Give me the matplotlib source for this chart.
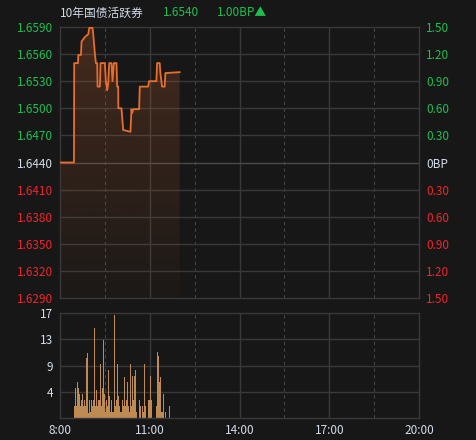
import numpy as np
import matplotlib.pyplot as plt
from matplotlib.colors import to_rgb

plt.rcParams['font.family'] = ['Noto Sans CJK SC', 'DejaVu Sans']

# minutes after 8:00 and yield
t = [0, 28, 28.5, 36, 36.7, 42, 43.3, 50, 56.7, 58.7, 65.3, 66.7, 70, 72, 74.7, 75.3,
     80, 81.3, 90, 92, 94.7, 96.7, 98.7, 103.3, 105.3, 108, 113.3, 114.7, 116.7, 117,
     123.3, 126.7, 141.3, 143.3, 145, 146.7, 158.7, 160, 176.7, 178.7, 193.3, 194.7,
     200, 201.3, 204.7, 210, 211.3, 240]
yld = [1.6440, 1.6440, 1.6550, 1.6550, 1.6559, 1.6559, 1.6574, 1.6579, 1.6582, 1.6589,
       1.6589, 1.6582, 1.6560, 1.6550, 1.6550, 1.6524, 1.6524, 1.6550, 1.6550, 1.6530,
       1.6520, 1.6528, 1.6550, 1.6550, 1.6530, 1.6550, 1.6550, 1.6524, 1.6524, 1.6500,
       1.6500, 1.6476, 1.6474, 1.6499, 1.6495, 1.6499, 1.6499, 1.6524, 1.6524, 1.6530,
       1.6530, 1.6550, 1.6550, 1.6539, 1.6524, 1.6524, 1.6539, 1.6540]

# volume, 2-minute bins starting at 8:28
vol_start = 28
vol_bin = 2
vol = [2, 4.8, 2, 5.8, 4.8, 3.9, 2, 2.9, 3.9, 2, 2.9, 2, 9.7, 10.6, 0.8, 2.9, 1, 2.9, 2, 2.9,
       14.5, 2, 4.5, 2, 2.9, 2.9, 8.8, 2, 4.8, 12.6, 3.9, 1, 2.9, 2, 7.8, 3.5, 1, 2.9, 1, 1,
       16.7, 2, 2.9, 8.8, 3.5, 2, 1, 1, 2.9, 2, 6.7, 2, 2.9, 5.9, 2, 1, 8.7, 2, 6.8, 2.9,
       6.8, 7.8, 1, 0, 0, 2.9, 2, 0, 2, 1, 8.7, 2, 0, 0, 2.9, 2.9, 6.8, 2.9, 0, 0,
       0, 0, 2, 10.7, 10, 5.9, 6.7, 1, 1, 3.9, 0, 1, 0, 0, 0, 2]

base = 1.6440
yticks = [1.6590, 1.6560, 1.6530, 1.6500, 1.6470, 1.6440, 1.6410, 1.6380, 1.6350, 1.6320, 1.6290]
bp_labels = ['1.50', '1.20', '0.90', '0.60', '0.30', '0BP', '0.30', '0.60', '0.90', '1.20', '1.50']
xticks = [0, 180, 360, 540, 720]
xlabels = ['8:00', '11:00', '14:00', '17:00', '20:00']
vol_max = 17

bg = '#171717'
grid_c = '#393939'
green = '#1fbf4f'
red = '#f0242c'
light = '#d4dcea'
orange = '#e86e2c'

fig = plt.figure(figsize=(4.76, 4.4), dpi=100, facecolor=bg)
W, H = 476, 440
ax = fig.add_axes([60 / W, (H - 298) / H, 359 / W, 271 / H], facecolor=bg)
axv = fig.add_axes([60 / W, (H - 418) / H, 359 / W, 105 / H], facecolor=bg)


def frame(a):
    for s in a.spines.values():
        s.set_color(grid_c)
        s.set_linewidth(1)
    a.set_xlim(0, 720)
    a.set_xticks(xticks)
    for x in [180, 360, 540]:
        a.axvline(x, color=grid_c, lw=1, zorder=0)
    for x in [90, 270, 450, 630]:
        a.axvline(x, color='#444444', lw=0.8, ls=(0, (3, 3)), zorder=0)
    a.tick_params(length=0, labelsize=8.5)


frame(ax)
ax.set_ylim(1.6290, 1.6590)
ax.set_yticks(yticks)
ax.set_yticklabels([f'{v:.4f}' for v in yticks])
ax.set_xticklabels([])
for v in yticks[1:-1]:
    ax.axhline(v, color='#4a4a4a' if abs(v - base) < 1e-6 else grid_c, lw=1, zorder=0)
for lab, v in zip(ax.get_yticklabels(), yticks):
    lab.set_color(light if abs(v - base) < 1e-6 else (green if v > base else red))
ax.tick_params(axis='y', pad=5)

axr = ax.twinx()
axr.set_ylim(1.6290, 1.6590)
axr.set_yticks(yticks)
axr.set_yticklabels(bp_labels)
axr.tick_params(length=0, labelsize=8.5, pad=5)
for s in axr.spines.values():
    s.set_visible(False)
for lab, v in zip(axr.get_yticklabels(), yticks):
    lab.set_color(light if abs(v - base) < 1e-6 else (green if v > base else red))

# gradient fill under the line
poly = ax.fill_between(t, yld, 1.6290, color='none', lw=0)
rgb = to_rgb('#c8622e')
alpha = np.linspace(0.26, 0.03, 256)
grad = np.zeros((256, 1, 4))
grad[:, 0, :3] = rgb
grad[:, 0, 3] = alpha
im = ax.imshow(grad, extent=[0, 240, 1.6290, 1.6590], aspect='auto', origin='upper', zorder=1)
im.set_clip_path(poly.get_paths()[0], transform=ax.transData)
ax.plot(t, yld, color=orange, lw=1.3, zorder=3)

# volume
frame(axv)
axv.set_ylim(0, vol_max)
vt = [vol_max * k / 4 for k in range(1, 5)]
axv.set_yticks(vt)
axv.set_yticklabels([str(int(v + 0.5)) for v in vt], color=light)
for v in vt[:-1]:
    axv.axhline(v, color=grid_c, lw=1, zorder=0)
axv.set_xticklabels(xlabels, color=light)
axv.tick_params(axis='x', pad=4.5, labelsize=8.5)
axv.tick_params(axis='y', pad=5)
vx = vol_start + vol_bin * np.arange(len(vol))
axv.bar(vx, vol, width=vol_bin, align='edge', color='#be8c52', lw=0, zorder=2)

fig.text(60 / W, 1 - 13 / H, '10年国债活跃券', color=light, fontsize=8.5, va='center')
fig.text(163 / W, 1 - 13 / H, '1.6540', color=green, fontsize=8.5, va='center')
fig.text(217 / W, 1 - 13 / H, '1.00BP▲', color=green, fontsize=8.5, va='center')

fig.savefig('out.png', dpi=100, facecolor=bg)
